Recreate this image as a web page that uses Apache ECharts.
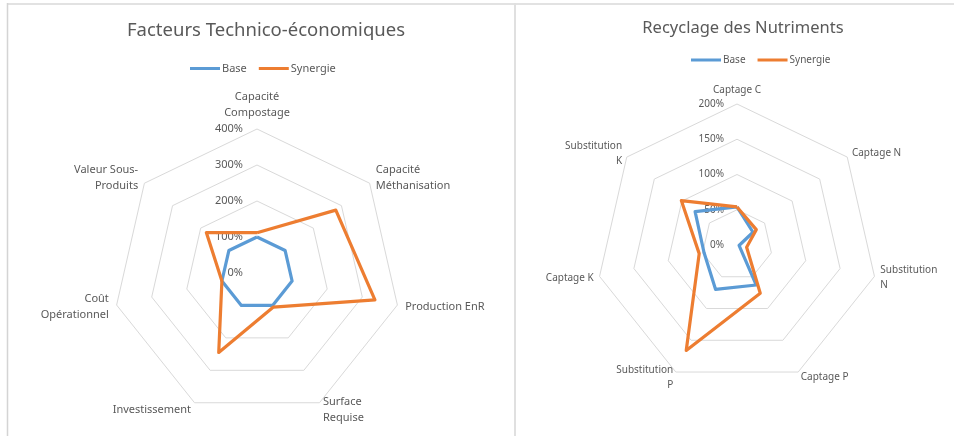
<!DOCTYPE html>
<html>
<head>
<meta charset="utf-8">
<script src="https://cdn.jsdelivr.net/npm/echarts@6/dist/echarts.min.js"></script>
<style>
html,body{margin:0;padding:0;background:#fff;}
#c{width:954px;height:436px;}
</style>
</head>
<body>
<div id="c"></div>
<script>
// ---- Data (clockwise order starting at top) ----
var leftTitle = 'Facteurs Technico-économiques';
var leftCategories = ['Capacité\nCompostage', 'Capacité\nMéthanisation', 'Production EnR', 'Surface\nRequise', 'Investissement', 'Coût\nOpérationnel', 'Valeur Sous-\nProduits'];
var leftBase = [100, 100, 100, 100, 100, 100, 100];
var leftSynergie = [112, 280, 336, 105, 245, 100, 180];
var leftMax = 400;

var rightTitle = 'Recyclage des Nutriments';
var rightCategories = ['Captage C', 'Captage N', 'Substitution\nN', 'Captage P', 'Substitution\nP', 'Captage K', 'Substitution\nK'];
var rightBase = [54, 29, 3, 63, 70, 48, 76];
var rightSynergie = [54, 35, 14, 76, 166, 55, 101];
var rightMax = 200;

var seriesNames = ['Base', 'Synergie'];
var colors = ['#5B9BD5', '#ED7D31'];

// ECharts radar runs counter-clockwise; reorder to keep clockwise reading
function cw(arr) { return [arr[0]].concat(arr.slice(1).reverse()); }

function indicators(cats, max) {
  return cw(cats).map(function (n, i) {
    var o = { name: n, max: max, min: 0 };
    if (i > 0) o.axisLabel = { show: false };
    return o;
  });
}

var FONT = 'Noto Sans';
var GREY = '#595959';

function radarComp(cats, max, center, radius, fs, gap, margin) {
  return {
    center: center,
    radius: radius,
    startAngle: 90,
    shape: 'polygon',
    splitNumber: 4,
    indicator: indicators(cats, max),
    axisName: { color: GREY, fontFamily: FONT, fontSize: fs, lineHeight: fs + 5 },
    nameGap: gap,
    axisLine: { show: false },
    axisTick: { show: false },
    splitArea: { show: false },
    splitLine: { lineStyle: { color: '#d9d9d9', width: 1 } },
    axisLabel: {
      show: true, color: GREY, fontFamily: FONT, fontSize: fs, margin: margin,
      formatter: function (v) { return v + '%'; }
    }
  };
}

function radarSeries(idx, base, syn) {
  return {
    type: 'radar',
    radarIndex: idx,
    symbol: 'none',
    silent: true,
    data: [
      { name: seriesNames[0], value: cw(base), lineStyle: { color: colors[0], width: 3.2 }, itemStyle: { color: colors[0] } },
      { name: seriesNames[1], value: cw(syn), lineStyle: { color: colors[1], width: 3.2 }, itemStyle: { color: colors[1] } }
    ]
  };
}

function legend(left, top, fs) {
  return {
    data: seriesNames,
    left: left, top: top,
    icon: 'rect', itemWidth: 30, itemHeight: 3, itemGap: 12,
    textStyle: { color: GREY, fontFamily: FONT, fontSize: fs, padding: [0, 0, 0, -3] },
    selectedMode: false
  };
}

var chart = echarts.init(document.getElementById('c'), null, { renderer: 'canvas' });
chart.setOption({
  backgroundColor: '#ffffff',
  animation: false,
  color: colors,
  title: [
    { text: leftTitle, left: 261, top: 16, textAlign: 'center',
      textStyle: { color: GREY, fontFamily: FONT, fontSize: 18.5, fontWeight: 'normal' } },
    { text: rightTitle, left: 738, top: 15, textAlign: 'center',
      textStyle: { color: GREY, fontFamily: FONT, fontSize: 16.5, fontWeight: 'normal' } }
  ],
  legend: [legend(185, 58, 11), legend(686, 50, 10)],
  radar: [
    radarComp(leftCategories, leftMax, [257, 273], 144, 11, 8, 14),
    radarComp(rightCategories, rightMax, [737, 245], 141, 10, 6, 13)
  ],
  series: [
    radarSeries(0, leftBase, leftSynergie),
    radarSeries(1, rightBase, rightSynergie)
  ],
  graphic: [
    { type: 'line', shape: { x1: 7, y1: 4, x2: 954, y2: 4 }, style: { stroke: '#e2e2e2', lineWidth: 2 }, silent: true },
    { type: 'line', shape: { x1: 7.5, y1: 3, x2: 7.5, y2: 436 }, style: { stroke: '#d4d4d4', lineWidth: 1.5 }, silent: true },
    { type: 'line', shape: { x1: 515, y1: 3, x2: 515, y2: 436 }, style: { stroke: '#e0e0e0', lineWidth: 2 }, silent: true }
  ]
});
</script>
</body>
</html>
